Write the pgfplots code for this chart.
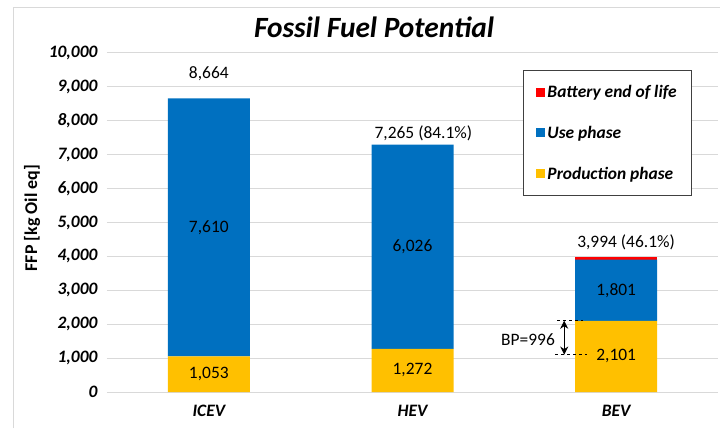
\documentclass[border=0pt]{standalone}
\usepackage{fontspec}
\setmainfont{Carlito}
\usepackage{pgfplots}
\pgfplotsset{compat=1.18}
\usetikzlibrary{arrows.meta}
\definecolor{cblue}{HTML}{0070C0}
\definecolor{cgold}{HTML}{FFC000}
\definecolor{cred}{HTML}{FF0000}
\definecolor{cgrid}{HTML}{D9D9D9}
\newcommand{\fs}{\fontsize{17.5}{21}\selectfont}
\begin{document}
\begin{tikzpicture}
\path[use as bounding box] (-107bp,-38bp) rectangle (613bp,392bp);
\draw[cgrid, line width=1bp] (-93bp,-36bp) -- (-93bp,384bp) -- (613bp,384bp);
\begin{axis}[
 scale only axis, width=611bp, height=339bp,
 ybar stacked, bar width=82bp,
 xmin=-0.5, xmax=2.5, ymin=0, ymax=10000,
 xtick={0,1,2}, xticklabels={ICEV,HEV,BEV},
 ytick distance=1000, scaled y ticks=false,
 ymajorgrids, major grid style={cgrid, line width=1bp},
 axis line style={draw=none}, major tick style={draw=none},
 /pgf/number format/1000 sep={,},
 /pgf/number format/assume math mode=true,
 yticklabel style={font=\fs\bfseries\itshape, xshift=-6bp},
 xticklabel style={font=\fs\bfseries\itshape, yshift=-10bp},
 title={Fossil Fuel Potential},
 title style={font=\fontsize{29.5}{33}\selectfont\bfseries\itshape, at={(axis description cs:0.437,1.059)}, anchor=center},
 ylabel={FFP [kg Oil eq]},
 every axis y label/.style={at={(axis description cs:-0.1227,0.513)}, rotate=90, anchor=center, font=\fontsize{18}{21}\selectfont\bfseries},
 legend style={at={(axis description cs:0.681,0.950)}, anchor=north west,
   draw=black!75, line width=0.8bp, inner xsep=13bp, inner ysep=13bp, row sep=23bp,
   font=\fs\bfseries\itshape, /tikz/every even column/.style={column sep=3bp}},
 reverse legend,
 legend cell align=left,
 legend image code/.code={\fill[#1] (0bp,-4.5bp) rectangle (9bp,4.5bp);},
]
\addplot[fill=cgold, draw=none] coordinates {(0,1053) (1,1272) (2,2101)};
\addplot[fill=cblue, draw=none] coordinates {(0,7610) (1,6026) (2,1801)};
\addplot[fill=cred, draw=none] coordinates {(0,0) (1,0) (2,92)};
\legend{Production phase, Use phase, Battery end of life}
\coordinate (l1) at (axis cs:0,4858);
\coordinate (l2) at (axis cs:0,526);
\coordinate (l3) at (axis cs:1,4285);
\coordinate (l4) at (axis cs:1,636);
\coordinate (l5) at (axis cs:2,3001);
\coordinate (l6) at (axis cs:2,1050);
\coordinate (t1) at (axis cs:0,9380);
\coordinate (t2) at (axis cs:0.813,7640);
\coordinate (t3) at (axis cs:1.808,4420);
\coordinate (d1a) at (axis cs:1.71,2101);
\coordinate (d1b) at (axis cs:1.838,2101);
\coordinate (d2a) at (axis cs:1.70,1105);
\coordinate (d2b) at (axis cs:1.857,1105);
\coordinate (ara) at (axis cs:1.745,2101);
\coordinate (arb) at (axis cs:1.745,1105);
\coordinate (bp) at (axis cs:1.70,1550);
\end{axis}
\node[font=\fs] at (l1) {7,610};
\node[font=\fs] at (l2) {1,053};
\node[font=\fs] at (l3) {6,026};
\node[font=\fs] at (l4) {1,272};
\node[font=\fs] at (l5) {1,801};
\node[font=\fs] at (l6) {2,101};
\node[font=\fs, inner sep=0pt] at (t1) {8,664};
\node[font=\fs, inner sep=0pt, anchor=west] at (t2) {7,265 (84.1\%)};
\node[font=\fs, inner sep=0pt, anchor=west] at (t3) {3,994 (46.1\%)};
\draw[dashed, black, line width=0.6bp] (d1a) -- (d1b);
\draw[dashed, black, line width=0.6bp] (d2a) -- (d2b);
\draw[{Stealth[length=8bp,width=8bp]}-{Stealth[length=8bp,width=8bp]}, line width=0.8bp] (ara) -- (arb);
\node[font=\fs, inner sep=0pt, anchor=east] at (bp) {BP=996};
\end{tikzpicture}
\end{document}
